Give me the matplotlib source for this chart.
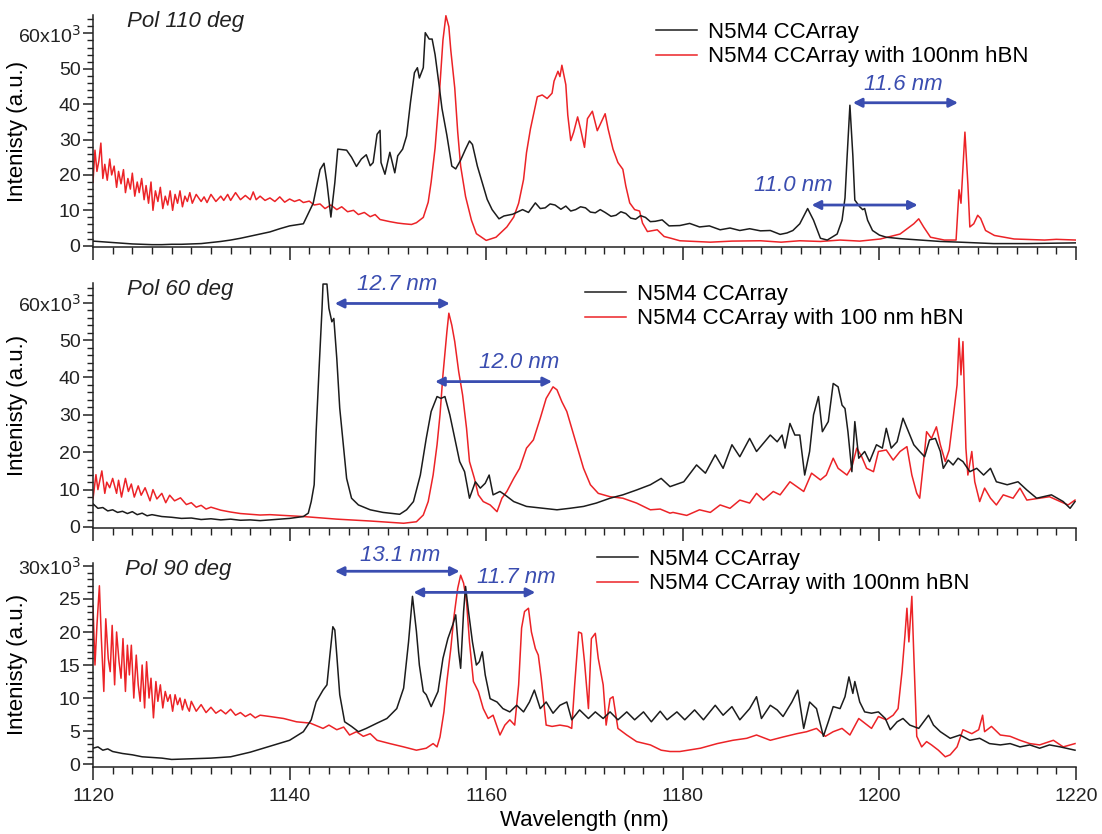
import numpy as np
import matplotlib
matplotlib.use("Agg")
import matplotlib.pyplot as plt
from matplotlib.lines import Line2D
from matplotlib.ticker import MultipleLocator, FixedLocator, FixedFormatter

plt.rcParams['font.family'] = ['Liberation Sans', 'DejaVu Sans']

# ---------------------------------------------------------------- data
# (wavelength nm, intensity in units of 1e3 counts)

P1_BLACK = [
    (1120, 1.3), (1121, 1.1), (1122, 0.9), (1123, 0.7), (1124, 0.5), (1125, 0.4),
    (1126, 0.3), (1127, 0.3), (1128, 0.4), (1129, 0.4), (1130, 0.5), (1131, 0.6),
    (1132, 0.9), (1133, 1.2), (1134, 1.6), (1135, 2.1), (1136, 2.7), (1137, 3.3),
    (1138, 3.9), (1139.0, 4.8), (1140.0, 5.6), (1141.4, 6.2), (1142.4, 12.0),
    (1143.1, 21.5), (1143.5, 23.3), (1143.8, 17.8), (1144.2, 8.1), (1144.6, 17.8),
    (1144.9, 27.3), (1145.8, 27.0), (1146.3, 25.0), (1146.8, 22.4), (1147.3, 24.5),
    (1147.8, 25.7), (1148.2, 22.6), (1148.5, 23.5), (1148.9, 31.5), (1149.2, 32.6),
    (1149.3, 23.5), (1149.7, 20.2), (1150.2, 26.4), (1150.7, 20.6), (1151.0, 25.4),
    (1151.5, 27.3), (1151.9, 31.0), (1152.3, 40.6), (1152.7, 48.9), (1153.0, 50.3),
    (1153.2, 47.4), (1153.6, 50.3), (1153.8, 60.2), (1154.2, 58.4), (1154.5, 58.4),
    (1154.8, 54.0), (1155.2, 45.5), (1155.5, 38.8), (1156.0, 31.2), (1156.5, 22.5),
    (1156.9, 21.7), (1157.4, 24.2), (1157.9, 27.3), (1158.3, 29.6), (1158.6, 28.6),
    (1159.1, 22.5), (1159.6, 17.8), (1160.1, 13.1), (1160.6, 10.2), (1161.3, 7.6),
    (1161.8, 8.4), (1162.7, 8.9), (1163.7, 10.2), (1164.3, 9.4), (1165.0, 12.1),
    (1165.5, 10.5), (1166.0, 10.7), (1166.5, 11.8), (1167.0, 11.5), (1167.6, 10.3),
    (1168.1, 11.2), (1168.6, 9.8), (1169.1, 10.2), (1169.6, 11.0), (1170.1, 10.7),
    (1170.6, 9.5), (1171.1, 9.3), (1171.6, 10.2), (1172.1, 9.4), (1172.7, 8.3),
    (1173.2, 8.6), (1173.7, 9.6), (1174.2, 9.1), (1174.7, 7.8), (1175.2, 7.5),
    (1175.7, 8.5), (1176.2, 8.0), (1176.7, 6.8), (1177.2, 6.9), (1177.9, 7.3),
    (1178.6, 5.6), (1179.7, 5.7), (1180.7, 6.3), (1181.7, 5.3), (1182.7, 5.6),
    (1183.8, 4.5), (1184.8, 5.0), (1185.8, 4.3), (1186.8, 4.8), (1187.9, 4.2),
    (1188.9, 4.3), (1189.9, 3.2), (1190.6, 3.6), (1191.2, 4.3), (1191.9, 6.2),
    (1192.7, 10.5), (1193.3, 7.2), (1194.0, 2.1), (1194.7, 1.6), (1195.7, 3.3),
    (1196.2, 7.2), (1196.5, 13.5), (1196.7, 24.4), (1197.0, 39.7), (1197.3, 25.4),
    (1197.5, 12.9), (1198.0, 11.0), (1198.3, 10.2), (1198.5, 10.5), (1198.8, 7.2),
    (1199.3, 4.3), (1200.0, 3.0), (1200.7, 2.4), (1202.1, 2.0), (1204.1, 1.6),
    (1206.2, 1.2), (1208.2, 1.0), (1211.6, 0.6), (1215.0, 0.6), (1220.0, 0.8),
]

P1_RED = [
    (1120.0, 18), (1120.2, 27), (1120.4, 21), (1120.6, 24), (1120.8, 29),
    (1121.0, 19), (1121.2, 23), (1121.45, 18.5), (1121.7, 24.5), (1121.9, 20),
    (1122.15, 22.5), (1122.4, 16.5), (1122.6, 21), (1122.85, 17.5), (1123.1, 21.5),
    (1123.3, 15), (1123.55, 19), (1123.8, 16), (1124.0, 20.5), (1124.25, 14),
    (1124.5, 18), (1124.7, 15), (1124.95, 19), (1125.2, 13), (1125.4, 17),
    (1125.65, 12), (1125.9, 18), (1126.1, 10), (1126.35, 15.5), (1126.6, 12.5),
    (1126.85, 16.5), (1127.1, 10.5), (1127.35, 14), (1127.6, 11.5), (1127.85, 15.5),
    (1128.1, 10), (1128.35, 14.5), (1128.6, 12), (1128.85, 15.5), (1129.1, 11),
    (1129.35, 14), (1129.6, 12.5), (1129.85, 15), (1130.1, 12), (1130.5, 14.5),
    (1131.0, 12.5), (1131.3, 13.8), (1131.6, 12.2), (1132.0, 14.5), (1132.5, 12.5),
    (1133.0, 14), (1133.3, 12.8), (1133.7, 14.5), (1134.0, 12.8), (1134.5, 15),
    (1135.0, 13), (1135.5, 14.2), (1136.0, 13), (1136.3, 15.2), (1136.6, 13),
    (1137.0, 14), (1137.5, 12.8), (1138.0, 13.5), (1138.5, 12.5), (1139.0, 13.8),
    (1139.5, 12.3), (1140.0, 13.2), (1140.5, 12.5), (1141.0, 13.0), (1141.4, 12.2),
    (1142.0, 12.6), (1142.5, 11.5), (1143.1, 11.8), (1143.6, 10.5), (1144.2, 11.5),
    (1144.8, 10.2), (1145.3, 11.0), (1145.9, 9.6), (1146.5, 10.0), (1147.0, 8.8),
    (1147.6, 9.4), (1148.2, 8.2), (1148.7, 8.8), (1149.2, 7.4), (1150.2, 6.8),
    (1151.0, 6.4), (1151.6, 6.2), (1152.4, 6.0), (1152.9, 6.5), (1153.6, 8.0),
    (1154.1, 12.3), (1154.4, 18.0), (1154.8, 27.6), (1155.1, 38.0), (1155.3, 45.6),
    (1155.6, 58.1), (1155.9, 65.0), (1156.2, 61.9), (1156.4, 55.2), (1156.8, 44.6),
    (1157.1, 32.2), (1157.4, 22.5), (1157.9, 13.9), (1158.5, 7.2), (1159.0, 3.4),
    (1160.0, 1.5), (1161.0, 2.4), (1162.1, 5.3), (1162.8, 8.1), (1163.3, 12.0),
    (1163.8, 18.7), (1164.1, 26.3), (1164.5, 33.0), (1164.8, 36.9), (1165.2, 42.1),
    (1165.7, 42.6), (1166.2, 41.6), (1166.7, 43.1), (1166.9, 46.5), (1167.3, 49.3),
    (1167.5, 47.8), (1167.7, 51.0), (1168.1, 45.5), (1168.3, 36.9), (1168.6, 29.7),
    (1168.9, 32.1), (1169.3, 36.4), (1169.6, 33.0), (1170.0, 27.8), (1170.3, 35.9),
    (1170.8, 38.0), (1171.3, 32.5), (1171.7, 34.9), (1172.1, 37.3), (1172.4, 33.0),
    (1172.9, 27.3), (1173.4, 23.5), (1173.9, 21.6), (1174.2, 16.9), (1174.6, 12.1),
    (1175.1, 10.2), (1175.6, 9.8), (1175.9, 6.4), (1176.4, 4.0), (1177.4, 4.5),
    (1178.1, 2.6), (1178.8, 2.1), (1179.7, 1.4), (1182.8, 1.0), (1185.0, 1.3),
    (1187.9, 1.4), (1190.0, 1.0), (1191.9, 1.4), (1194.0, 1.2), (1196.0, 1.6),
    (1198.0, 1.3), (1200.1, 1.9), (1202.1, 3.3), (1203.5, 6.2), (1204.0, 7.6),
    (1204.5, 5.3), (1205.2, 2.4), (1206.6, 1.6), (1207.8, 1.6), (1208.1, 15.8),
    (1208.3, 12.0), (1208.7, 32.1), (1209.0, 17.4), (1209.2, 5.3), (1209.6, 6.2),
    (1210.0, 8.6), (1210.3, 7.7), (1210.8, 4.3), (1211.7, 2.9), (1213.7, 1.9),
    (1216.8, 1.6), (1218.0, 1.8), (1220.0, 1.6),
]

P2_BLACK = [
    (1120.0, 6.2), (1120.5, 5.0), (1121, 5.2), (1121.5, 4.3), (1122, 4.6),
    (1122.5, 3.9), (1123, 4.2), (1123.5, 3.6), (1124, 4.1), (1124.5, 3.3),
    (1125, 3.7), (1125.5, 3.0), (1126, 3.3), (1127, 2.8), (1128, 2.6), (1129, 2.3),
    (1130, 2.4), (1131, 2.0), (1132, 2.2), (1133, 1.9), (1134, 2.1), (1135, 1.8),
    (1136, 1.9), (1137, 1.7), (1138.0, 1.9), (1139, 2.1), (1140.0, 2.3),
    (1141.4, 2.8), (1141.9, 3.7), (1142.2, 6.8), (1142.5, 11.3), (1142.7, 25.5),
    (1143.0, 42.4), (1143.3, 58.5), (1143.4, 65.0), (1143.8, 65.0), (1144.0, 58.5),
    (1144.3, 54.9), (1144.5, 55.8), (1144.8, 45.1), (1145.1, 31.8), (1145.5, 21.1),
    (1145.8, 13.0), (1146.3, 7.7), (1147.0, 5.9), (1148.2, 4.6), (1149.5, 3.9),
    (1150.5, 3.6), (1151.2, 3.4), (1151.9, 4.6), (1152.6, 6.8), (1153.3, 13.9),
    (1153.9, 23.7), (1154.4, 30.9), (1155.0, 34.9), (1155.4, 34.4), (1155.8, 34.9),
    (1156.3, 30.0), (1156.8, 23.7), (1157.3, 17.5), (1157.8, 14.8), (1158.3, 7.7),
    (1158.9, 12.1), (1159.4, 10.4), (1159.9, 11.7), (1160.3, 13.9), (1160.7, 8.6),
    (1161.4, 9.5), (1161.9, 8.6), (1162.8, 6.8), (1164.1, 5.5), (1165.8, 5.0),
    (1167.2, 4.6), (1168.5, 5.0), (1169.9, 5.5), (1171.2, 6.4), (1172.6, 7.7),
    (1173.9, 8.6), (1175.3, 9.9), (1176.7, 11.3), (1177.8, 13.0), (1178.7, 10.8),
    (1180.1, 12.1), (1181.4, 16.6), (1182.3, 14.4), (1183.3, 19.3), (1184.1, 15.7),
    (1185.0, 22.0), (1185.8, 18.8), (1186.8, 23.7), (1187.5, 20.2), (1188.9, 24.6),
    (1189.6, 22.8), (1190.1, 24.6), (1190.4, 21.1), (1190.9, 27.7), (1191.4, 24.6),
    (1191.9, 24.6), (1192.4, 13.9), (1192.9, 20.2), (1193.3, 30.0), (1193.8, 34.9),
    (1194.2, 25.5), (1194.8, 28.2), (1195.3, 38.4), (1195.8, 37.5), (1196.2, 32.6),
    (1196.5, 31.7), (1196.8, 25.5), (1197.2, 14.8), (1197.5, 28.2), (1197.9, 18.4),
    (1198.5, 20.2), (1199.0, 17.5), (1199.7, 22.0), (1200.3, 21.1), (1200.7, 26.4),
    (1201.2, 21.1), (1201.8, 22.8), (1202.4, 29.1), (1202.9, 25.9), (1203.5, 22.0),
    (1204.1, 20.2), (1204.6, 18.8), (1205.1, 23.3), (1205.7, 23.7), (1206.2, 20.2),
    (1206.5, 15.7), (1207.0, 17.9), (1207.5, 16.6), (1208.0, 18.4), (1208.5, 17.5),
    (1209.2, 14.8), (1209.9, 15.7), (1210.6, 13.9), (1211.3, 15.7), (1211.9, 12.1),
    (1213.0, 11.3), (1214.1, 12.1), (1215.0, 9.9), (1216.0, 7.7), (1217.5, 8.6),
    (1218.7, 6.8), (1219.4, 5.0), (1219.9, 6.8),
]

P2_RED = [
    (1120.0, 7.5), (1120.3, 14), (1120.5, 10), (1120.9, 15), (1121.2, 9),
    (1121.4, 12), (1121.7, 10.5), (1122.0, 13), (1122.4, 9), (1122.6, 12.5),
    (1122.9, 8), (1123.3, 13), (1123.6, 9.5), (1123.9, 11.5), (1124.2, 8),
    (1124.6, 11), (1124.9, 8.5), (1125.3, 10.5), (1125.8, 7), (1126.1, 10),
    (1126.5, 7.5), (1127.0, 9), (1127.4, 6.5), (1127.8, 8.5), (1128.3, 7),
    (1128.9, 7.8), (1129.5, 6), (1130.0, 6.5), (1130.5, 5.3), (1131.0, 5.8),
    (1131.5, 4.8), (1132.0, 5.3), (1133.0, 4.5), (1134.0, 4.0), (1135.0, 3.6),
    (1136.0, 3.4), (1137.0, 3.2), (1138.0, 3.3), (1141.4, 2.8), (1144.8, 2.1),
    (1148.2, 1.6), (1151.6, 1.0), (1152.9, 1.4), (1153.6, 3.2), (1154.1, 6.8),
    (1154.6, 13.9), (1155.0, 22.0), (1155.3, 30.0), (1155.6, 40.7), (1156.0, 52.2),
    (1156.2, 57.2), (1156.5, 54.0), (1156.8, 49.6), (1157.2, 41.6), (1157.6, 35.3),
    (1158.0, 26.4), (1158.3, 17.5), (1158.8, 13.0), (1159.2, 8.6), (1159.7, 6.8),
    (1160.4, 5.9), (1161.1, 4.1), (1161.6, 7.7), (1162.1, 9.5), (1162.8, 13.0),
    (1163.4, 15.7), (1164.1, 21.1), (1164.8, 23.3), (1165.5, 29.1), (1166.1, 34.4),
    (1166.8, 37.5), (1167.2, 36.7), (1167.7, 33.5), (1168.2, 30.9), (1168.7, 26.4),
    (1169.2, 22.0), (1169.9, 15.7), (1170.6, 11.3), (1171.4, 9.0), (1172.6, 8.1),
    (1173.9, 7.7), (1175.3, 6.4), (1176.7, 4.6), (1177.7, 4.8), (1178.7, 3.7),
    (1179.0, 3.9), (1180.4, 3.1), (1181.7, 4.6), (1182.8, 3.9), (1183.8, 5.9),
    (1184.8, 5.0), (1185.8, 7.2), (1186.8, 6.4), (1187.5, 9.0), (1188.2, 7.2),
    (1189.2, 9.5), (1189.9, 8.6), (1190.9, 12.1), (1191.6, 10.8), (1192.3, 9.5),
    (1193.1, 14.4), (1194.0, 12.6), (1194.6, 13.9), (1195.3, 18.4), (1195.8, 15.7),
    (1196.7, 13.9), (1197.2, 16.1), (1197.7, 21.1), (1198.2, 18.8), (1198.7, 15.7),
    (1199.4, 14.8), (1199.9, 20.2), (1200.7, 20.6), (1201.4, 17.9), (1202.1, 20.2),
    (1202.8, 21.5), (1203.3, 13.9), (1203.8, 9.0), (1204.1, 7.7), (1204.5, 17.5),
    (1204.8, 25.5), (1205.3, 23.7), (1205.8, 26.8), (1206.2, 22.0), (1206.7, 17.5),
    (1207.1, 20.6), (1207.5, 29.1), (1207.9, 38.0), (1208.1, 50.5), (1208.3, 40.7),
    (1208.5, 49.6), (1208.8, 21.1), (1209.0, 13.9), (1209.4, 20.2), (1209.7, 12.1),
    (1210.2, 6.8), (1210.7, 10.4), (1211.3, 7.7), (1211.9, 5.9), (1212.6, 8.6),
    (1213.6, 7.7), (1214.3, 10.4), (1215.0, 7.2), (1216.3, 7.7), (1217.3, 8.1),
    (1218.4, 6.8), (1219.2, 5.9), (1219.9, 7.2),
]

P3_BLACK = [
    (1120, 2.4), (1120.5, 2.6), (1121, 2.1), (1121.5, 2.3), (1122, 1.9), (1123, 1.6),
    (1124, 1.4), (1125, 1.1), (1126, 1.0), (1127, 0.9), (1128, 0.7), (1130, 0.8),
    (1132, 0.9), (1134, 1.1), (1136, 1.8), (1138.0, 2.7), (1140.0, 3.6),
    (1141.4, 4.9), (1142.2, 6.7), (1142.7, 9.4), (1143.4, 11.2), (1143.8, 12.0),
    (1144.1, 16.5), (1144.4, 20.8), (1144.6, 20.3), (1144.8, 16.5), (1145.1, 10.5),
    (1145.6, 6.4), (1146.3, 5.7), (1147.0, 4.9), (1147.8, 5.4), (1148.9, 6.2),
    (1149.9, 6.9), (1150.9, 8.4), (1151.6, 11.5), (1152.1, 18.5), (1152.5, 25.4),
    (1152.9, 20.1), (1153.2, 15.0), (1153.6, 11.0), (1153.9, 10.5), (1154.4, 8.7),
    (1155.1, 11.0), (1155.6, 16.0), (1156.1, 19.0), (1156.6, 21.1), (1156.9, 22.6),
    (1157.2, 17.0), (1157.4, 14.5), (1157.7, 23.1), (1157.9, 26.9), (1158.2, 23.1),
    (1158.6, 18.5), (1159.0, 15.0), (1159.3, 15.5), (1159.6, 17.0), (1159.9, 13.5),
    (1160.4, 9.9), (1161.1, 9.4), (1161.7, 8.4), (1162.4, 7.9), (1163.1, 8.9),
    (1163.8, 7.9), (1164.4, 9.4), (1164.9, 11.2), (1165.5, 8.4), (1166.1, 9.4),
    (1166.8, 7.7), (1167.5, 8.9), (1168.2, 9.4), (1168.7, 6.7), (1169.5, 8.2),
    (1170.4, 6.9), (1171.1, 7.9), (1171.9, 6.9), (1172.6, 7.9), (1173.4, 6.7),
    (1174.3, 7.9), (1175.1, 6.7), (1176.0, 7.9), (1176.8, 6.4), (1177.7, 8.0),
    (1178.4, 6.7), (1179.4, 7.9), (1180.2, 6.7), (1181.2, 8.2), (1182.1, 6.7),
    (1183.3, 8.9), (1184.1, 7.4), (1185.0, 8.7), (1185.8, 6.7), (1186.8, 8.4),
    (1187.5, 10.2), (1188.0, 6.9), (1188.9, 8.9), (1189.6, 8.2), (1190.2, 7.2),
    (1191.1, 9.4), (1191.7, 11.2), (1192.3, 5.4), (1192.9, 9.4), (1193.6, 8.4),
    (1194.3, 4.2), (1194.8, 6.4), (1195.3, 8.7), (1196.0, 8.4), (1196.5, 10.2),
    (1196.9, 13.2), (1197.3, 10.7), (1197.5, 12.5), (1198.0, 9.4), (1198.5, 7.9),
    (1199.2, 7.7), (1199.9, 7.9), (1200.6, 6.9), (1201.1, 5.2), (1201.8, 6.4),
    (1202.4, 6.9), (1203.1, 5.9), (1204.0, 5.4), (1204.5, 6.4), (1205.0, 7.4),
    (1205.5, 5.9), (1206.2, 4.9), (1207.2, 3.9), (1208.2, 4.4), (1209.2, 3.6),
    (1210.2, 3.9), (1211.2, 3.1), (1212.3, 2.9), (1213.3, 3.1), (1214.3, 2.6),
    (1215.3, 2.9), (1216.3, 2.4), (1217.3, 2.9), (1218.4, 2.6), (1219.9, 2.1),
]

P3_RED = [
    (1120.0, 24), (1120.2, 15), (1120.4, 21), (1120.65, 27), (1120.85, 19),
    (1121.1, 11), (1121.3, 22), (1121.55, 16), (1121.75, 14), (1121.95, 21),
    (1122.2, 12), (1122.4, 20), (1122.65, 15.5), (1122.85, 13), (1123.05, 19),
    (1123.3, 11), (1123.5, 18), (1123.7, 13.5), (1123.9, 18), (1124.15, 10),
    (1124.4, 16.5), (1124.6, 12), (1124.8, 9.5), (1125.0, 15), (1125.25, 8.5),
    (1125.45, 15.5), (1125.7, 10), (1125.9, 13), (1126.15, 7), (1126.4, 12.5),
    (1126.6, 9.5), (1126.85, 12), (1127.1, 8.5), (1127.35, 11), (1127.6, 9.5),
    (1127.85, 10.5), (1128.1, 8), (1128.35, 10.5), (1128.6, 9), (1128.85, 10),
    (1129.1, 8.2), (1129.35, 9.8), (1129.6, 8.6), (1129.8, 8), (1130.0, 9.5),
    (1130.5, 8), (1131.0, 9), (1131.5, 7.8), (1132.0, 8.6), (1132.5, 7.7),
    (1133.0, 8.2), (1133.5, 7.6), (1134.0, 8.3), (1134.5, 7.4), (1135.0, 7.8),
    (1135.5, 7.2), (1136.0, 7.6), (1136.5, 7.0), (1137.0, 7.4), (1138.0, 7.2),
    (1139.4, 6.9), (1140.7, 6.4), (1142.1, 6.2), (1143.4, 5.4), (1144.0, 5.9),
    (1144.8, 5.2), (1145.5, 5.6), (1146.1, 4.4), (1146.8, 4.9), (1147.5, 4.2),
    (1148.2, 4.6), (1148.9, 3.6), (1150.2, 3.1), (1151.6, 2.6), (1152.9, 2.1),
    (1153.9, 2.4), (1154.6, 3.1), (1155.0, 2.6), (1155.3, 4.1), (1155.7, 7.9),
    (1156.0, 12.5), (1156.4, 17.5), (1156.7, 22.1), (1157.1, 26.6), (1157.4, 28.6),
    (1157.7, 27.4), (1158.0, 24.6), (1158.3, 18.5), (1158.7, 12.5), (1159.2, 11.0),
    (1159.7, 8.4), (1160.2, 6.9), (1160.7, 7.4), (1161.4, 4.4), (1161.9, 5.9),
    (1162.4, 6.7), (1162.9, 5.9), (1163.3, 12.0), (1163.6, 20.6), (1163.9, 23.1),
    (1164.3, 23.6), (1164.6, 20.0), (1165.0, 17.5), (1165.3, 16.5), (1165.6, 13.0),
    (1166.1, 5.9), (1166.7, 5.7), (1167.5, 5.9), (1168.3, 5.7), (1168.7, 5.4),
    (1169.0, 12.0), (1169.4, 20.0), (1169.7, 19.8), (1170.0, 15.5), (1170.4, 8.4),
    (1170.7, 19.0), (1171.1, 19.8), (1171.4, 16.0), (1171.9, 12.0), (1172.2, 5.9),
    (1172.6, 9.9), (1172.9, 10.2), (1173.4, 5.4), (1174.3, 4.4), (1175.3, 3.4),
    (1176.7, 2.9), (1177.8, 2.1), (1178.7, 1.9), (1179.7, 1.9), (1181.8, 2.4),
    (1183.5, 3.1), (1185.1, 3.6), (1186.5, 3.9), (1187.5, 4.4), (1188.9, 3.6),
    (1190.2, 4.1), (1191.6, 4.6), (1192.6, 4.9), (1193.6, 5.4), (1194.5, 4.2),
    (1195.3, 4.9), (1196.2, 5.4), (1197.0, 4.4), (1197.9, 6.9), (1198.5, 6.2),
    (1199.2, 5.4), (1199.9, 7.2), (1200.7, 6.7), (1201.4, 7.4), (1201.9, 8.4),
    (1202.3, 14.0), (1202.6, 19.5), (1202.8, 23.6), (1203.0, 18.5), (1203.3, 25.4),
    (1203.5, 16.5), (1203.8, 4.2), (1204.3, 2.6), (1204.8, 3.4), (1205.3, 2.9),
    (1206.0, 2.1), (1206.7, 1.1), (1207.2, 1.4), (1207.9, 2.6), (1208.5, 5.2),
    (1209.4, 4.6), (1210.1, 5.2), (1210.5, 7.4), (1210.7, 4.9), (1211.4, 5.7),
    (1212.3, 4.4), (1213.3, 4.2), (1214.3, 3.6), (1215.3, 3.1), (1216.3, 2.9),
    (1217.7, 3.6), (1218.7, 2.6), (1219.9, 3.1),
]

PANEL_TITLES = ["Pol 110 deg", "Pol 60 deg", "Pol 90 deg"]
LEGEND_LABELS = [
    ["N5M4 CCArray", "N5M4 CCArray with 100nm hBN"],
    ["N5M4 CCArray", "N5M4 CCArray with 100 nm hBN"],
    ["N5M4 CCArray", "N5M4 CCArray with 100nm hBN"],
]
Y_TICKS = [[0, 10, 20, 30, 40, 50, 60], [0, 10, 20, 30, 40, 50, 60], [0, 5, 10, 15, 20, 25, 30]]
Y_TICK_LABELS = [
    ["0", "10", "20", "30", "40", "50", r"60x10$^{3}$"],
    ["0", "10", "20", "30", "40", "50", r"60x10$^{3}$"],
    ["0", "5", "10", "15", "20", "25", r"30x10$^{3}$"],
]
X_TICKS = [1120, 1140, 1160, 1180, 1200, 1220]

# spacing annotations: (panel, start nm, end nm, y, label, label x, label y)
SPACINGS = [
    (0, 1197.3, 1208.0, 40.4, "11.6 nm", 1202.4, 45.6),
    (0, 1193.1, 1203.9, 11.5, "11.0 nm", 1191.2, 16.9),
    (1, 1144.6, 1156.3, 59.8, "12.7 nm", 1150.9, 64.8),
    (1, 1154.8, 1166.7, 38.9, "12.0 nm", 1163.4, 43.9),
    (2, 1144.6, 1157.3, 29.2, "13.1 nm", 1151.2, 31.6),
    (2, 1152.6, 1165.0, 26.0, "11.7 nm", 1163.1, 28.3),
]

SERIES = [(P1_BLACK, P1_RED), (P2_BLACK, P2_RED), (P3_BLACK, P3_RED)]

# ---------------------------------------------------------------- layout
W, H = 1102, 834
BLACK = "#1c1c1c"
RED = "#ec2327"
BLUE = "#3a4db0"

fig = plt.figure(figsize=(W / 100, H / 100), dpi=100)

left = 93 / W
width = (1076 - 93) / W
panel_px = [(15, 247.3), (283.3, 528.3), (563, 766.7)]
ylims = [(-0.45, 65.2), (-0.35, 65.2), (-0.4, 30.45)]
minor_steps = [2, 2, 1]
title_px = [(127, 21), (127, 289), (125, 569)]
legend_px = [(656, 22), (585, 284), (597, 549)]

for i in range(3):
    top_px, bot_px = panel_px[i]
    ax = fig.add_axes([left, 1 - bot_px / H, width, (bot_px - top_px) / H])
    kdata = np.array(SERIES[i][0]).T
    rdata = np.array(SERIES[i][1]).T
    ax.plot(kdata[0], kdata[1], color=BLACK, lw=1.1, zorder=3)
    ax.plot(rdata[0], rdata[1], color=RED, lw=1.1, zorder=2)

    ax.set_xlim(1120, 1220)
    ax.set_ylim(*ylims[i])

    for s in ("top", "right"):
        ax.spines[s].set_visible(False)
    for s in ("left", "bottom"):
        ax.spines[s].set_linewidth(1.1)
        ax.spines[s].set_color("#222222")

    ax.xaxis.set_major_locator(FixedLocator(X_TICKS))
    ax.xaxis.set_minor_locator(MultipleLocator(2))
    ax.yaxis.set_major_locator(FixedLocator(Y_TICKS[i]))
    ax.yaxis.set_major_formatter(FixedFormatter(Y_TICK_LABELS[i]))
    ax.yaxis.set_minor_locator(MultipleLocator(minor_steps[i]))
    ax.tick_params(axis="x", which="major", direction="out", length=9, width=1.1,
                   labelsize=14, pad=6, colors="#222222")
    ax.tick_params(axis="x", which="minor", direction="out", length=5, width=1.0,
                   colors="#222222")
    ax.tick_params(axis="y", which="major", direction="out", length=7, width=1.1,
                   labelsize=14, pad=2, colors="#222222")
    ax.tick_params(axis="y", which="minor", direction="out", length=4, width=1.0,
                   colors="#222222")
    if i < 2:
        ax.tick_params(axis="x", labelbottom=False)
    else:
        ax.set_xlabel("Wavelength (nm)", fontsize=16, labelpad=4)

    ax.set_ylabel("Intenisty (a.u.)", fontsize=16)
    ax.yaxis.set_label_coords(-0.066, 0.5)
    ax.patch.set_alpha(0)

    for (p, x1, x2, y, lab, tx, ty) in SPACINGS:
        if p != i:
            continue
        ax.annotate("", xy=(x2, y), xytext=(x1, y),
                    arrowprops=dict(arrowstyle="<|-|>", color=BLUE, lw=2.0,
                                    mutation_scale=13, shrinkA=0, shrinkB=0),
                    annotation_clip=False, zorder=5)
        ax.text(tx, ty, lab, color=BLUE, fontsize=16, style="italic",
                ha="center", va="center", clip_on=False, zorder=5)

    tx, ty = title_px[i]
    fig.text(tx / W, 1 - ty / H, PANEL_TITLES[i], fontsize=16, style="italic",
             ha="left", va="center", color="#222222")

    lx, ly = legend_px[i]
    handles = [Line2D([], [], color=BLACK, lw=1.1), Line2D([], [], color=RED, lw=1.1)]
    fig.legend(handles, LEGEND_LABELS[i], loc="upper left",
               bbox_to_anchor=(lx / W, 1 - ly / H), bbox_transform=fig.transFigure,
               frameon=False, fontsize=16, handlelength=1.85, handletextpad=0.5,
               borderpad=0, borderaxespad=0, labelspacing=0.15)

fig.savefig("out.png", dpi=100)
